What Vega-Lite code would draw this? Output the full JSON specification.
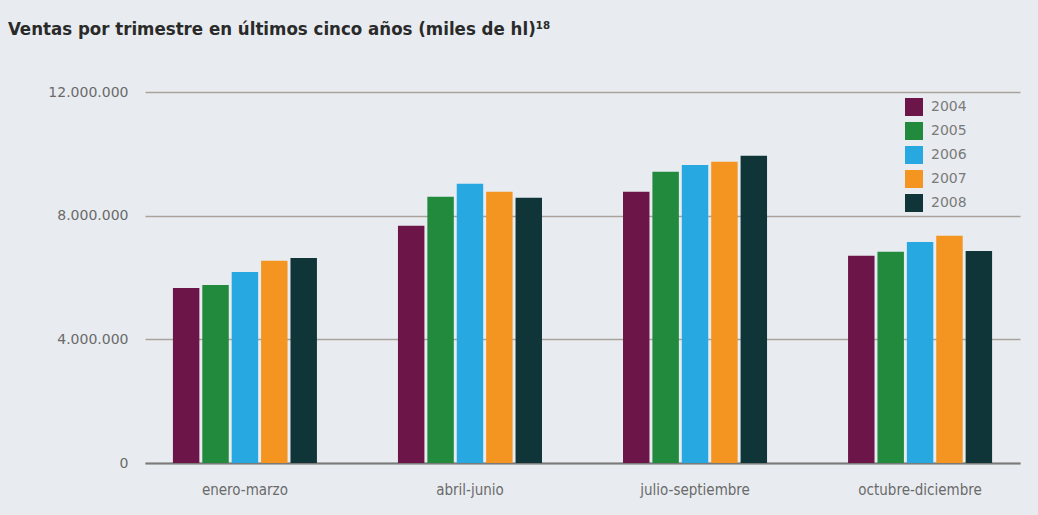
{
  "$schema": "https://vega.github.io/schema/vega-lite/v6.json",
  "autosize": {"type": "none"},
  "width": 875,
  "height": 371,
  "padding": {"left": 145, "top": 92, "right": 18, "bottom": 52},
  "background": "#e8ecf0",
  "title": {
    "text": "Ventas por trimestre en últimos cinco años (miles de hl)¹⁸",
    "anchor": "start",
    "frame": "group",
    "dx": -137,
    "offset": 47,
    "font": "DejaVu Sans Condensed",
    "fontSize": 18.5,
    "fontWeight": "bold",
    "color": "#2a2a2a"
  },
  "data": {
    "values": [
      {"trimestre": "enero-marzo", "año": "2004", "ventas": 5660000},
      {"trimestre": "enero-marzo", "año": "2005", "ventas": 5760000},
      {"trimestre": "enero-marzo", "año": "2006", "ventas": 6180000},
      {"trimestre": "enero-marzo", "año": "2007", "ventas": 6540000},
      {"trimestre": "enero-marzo", "año": "2008", "ventas": 6630000},
      {"trimestre": "abril-junio", "año": "2004", "ventas": 7670000},
      {"trimestre": "abril-junio", "año": "2005", "ventas": 8610000},
      {"trimestre": "abril-junio", "año": "2006", "ventas": 9030000},
      {"trimestre": "abril-junio", "año": "2007", "ventas": 8770000},
      {"trimestre": "abril-junio", "año": "2008", "ventas": 8580000},
      {"trimestre": "julio-septiembre", "año": "2004", "ventas": 8770000},
      {"trimestre": "julio-septiembre", "año": "2005", "ventas": 9420000},
      {"trimestre": "julio-septiembre", "año": "2006", "ventas": 9640000},
      {"trimestre": "julio-septiembre", "año": "2007", "ventas": 9740000},
      {"trimestre": "julio-septiembre", "año": "2008", "ventas": 9940000},
      {"trimestre": "octubre-diciembre", "año": "2004", "ventas": 6700000},
      {"trimestre": "octubre-diciembre", "año": "2005", "ventas": 6830000},
      {"trimestre": "octubre-diciembre", "año": "2006", "ventas": 7150000},
      {"trimestre": "octubre-diciembre", "año": "2007", "ventas": 7350000},
      {"trimestre": "octubre-diciembre", "año": "2008", "ventas": 6860000}
    ]
  },
  "mark": {"type": "bar"},
  "encoding": {
    "x": {
      "field": "trimestre",
      "type": "nominal",
      "sort": ["enero-marzo", "abril-junio", "julio-septiembre", "octubre-diciembre"],
      "scale": {"paddingInner": 0.36, "paddingOuter": 0.124},
      "axis": {
        "title": null,
        "labelAngle": 0,
        "ticks": false,
        "domain": true,
        "domainColor": "#7a7a7a",
        "domainWidth": 2,
        "labelFont": "DejaVu Sans Condensed",
        "labelFontSize": 15,
        "labelColor": "#6a6a6a",
        "labelPadding": 19
      }
    },
    "xOffset": {
      "field": "año",
      "type": "nominal",
      "scale": {"paddingInner": 0.1}
    },
    "y": {
      "field": "ventas",
      "type": "quantitative",
      "scale": {"domain": [0, 12000000], "nice": false},
      "axis": {
        "title": null,
        "values": [0, 4000000, 8000000, 12000000],
        "format": ",.0f",
        "domain": false,
        "ticks": false,
        "grid": true,
        "gridColor": "#aaa29a",
        "gridWidth": 1.5,
        "labelFont": "DejaVu Sans",
        "labelFontSize": 14,
        "labelColor": "#6a6a6a",
        "labelPadding": 17
      }
    },
    "color": {
      "field": "año",
      "type": "nominal",
      "scale": {
        "domain": ["2004", "2005", "2006", "2007", "2008"],
        "range": ["#6b1548", "#218a3c", "#27a8e0", "#f39520", "#0f3538"]
      },
      "legend": {
        "title": null,
        "orient": "none",
        "legendX": 760,
        "legendY": 6,
        "symbolType": "square",
        "symbolSize": 324,
        "symbolStrokeWidth": 0,
        "symbolOpacity": 1,
        "labelFont": "DejaVu Sans",
        "labelFontSize": 14,
        "labelColor": "#7a7a7a",
        "labelOffset": 8,
        "rowPadding": 6
      }
    }
  },
  "config": {
    "view": {"stroke": null},
    "locale": {
      "number": {"decimal": ",", "thousands": ".", "grouping": [3], "currency": ["", " €"]}
    }
  }
}
